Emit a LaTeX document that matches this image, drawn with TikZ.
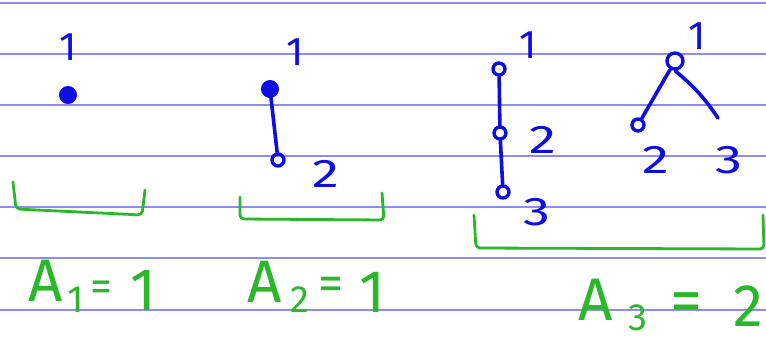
\documentclass[tikz,border=0pt]{standalone}
\usepackage{fontspec}
\setmainfont{Fira Sans}
\definecolor{inkblue}{RGB}{14,14,226}
\definecolor{inkgreen}{RGB}{40,184,40}
\definecolor{ruleblue}{RGB}{140,140,245}
\newcommand{\wide}[1]{\scalebox{1.35}[1]{#1}}
\begin{document}
\begin{tikzpicture}[x=1pt,y=-1pt,
  rule/.style={draw=ruleblue,line width=1.1pt},
  edge/.style={draw=inkblue,line width=3.6pt,line cap=round,line join=round},
  dotfill/.style={circle,fill=inkblue,draw=inkblue,line width=2pt,minimum size=16pt,inner sep=0pt},
  dotopen/.style={circle,draw=inkblue,line width=3.4pt,minimum size=12pt,inner sep=0pt},
  blab/.style={text=inkblue,font=\fontsize{40}{40}\selectfont,inner sep=0pt},
  bracketline/.style={draw=inkgreen,line width=2.8pt,line cap=round,line join=round,rounded corners=4pt},
  glab/.style={text=inkgreen,font=\fontsize{60}{60}\selectfont,inner sep=0pt},
  gsub/.style={text=inkgreen,font=\fontsize{38}{38}\selectfont,inner sep=0pt},
  geq/.style={text=inkgreen,font=\fontsize{44}{44}\selectfont,inner sep=0pt}]
\useasboundingbox[fill=white] (0,0) rectangle (766,342);
% ruled paper
\foreach \yy in {3,54,105,156,207,258,310}
  \draw[rule] (0,\yy) -- (766,\yy);

% ---- one vertex ----
\node[blab] (p1l) at (68,47) {1};
\node[dotfill] (p1a) at (68,95) {};
\draw[bracketline] (13,182) -- (16,209) -- (142,215) -- (145,190);
\node[glab] (p1A) at (46,281) {A};
\node[gsub] (p1s) at (76,300) {1};
\node[geq] (p1e) at (101,291) {=};
\node[glab] (p1v) at (143,290) {1};

% ---- two vertices ----
\node[blab] (p2l) at (295,52) {1};
\node[dotfill] (p2a) at (270,89) {};
\node[dotopen] (p2b) at (278,160) {};
\draw[edge] (p2a) -- (p2b);
\node[blab] (p2bl) at (326,174) {\wide{2}};
\draw[bracketline] (240,197) -- (240,219) -- (384,220) -- (382,193);
\node[glab] (p2A) at (265,282) {A};
\node[gsub] (p2s) at (300,300) {2};
\node[geq,font=\fontsize{50}{50}\selectfont] (p2e) at (331,289) {=};
\node[glab] (p2v) at (372,292) {1};

% ---- three vertices: path ----
\node[blab] (p3l) at (528,45) {1};
\node[dotopen] (p3a) at (499,69) {};
\node[dotopen] (p3b) at (500,133) {};
\node[dotopen] (p3c) at (503,192) {};
\draw[edge] (p3a) -- (p3b);
\draw[edge] (p3b) -- (p3c);
\node[blab] (p3bl) at (543,140) {\wide{2}};
\node[blab] (p3cl) at (537,212) {\wide{3}};

% ---- three vertices: cherry ----
\node[blab] (q3l) at (697,36) {1};
\node[dotopen,minimum size=16pt] (q3a) at (675,61) {};
\node[dotopen] (q3b) at (638,125) {};
\coordinate (q3c) at (718,118);
\draw[edge] (q3a) -- (q3b);
\draw[edge] (q3a.south) to[bend left=8] (q3c);
\node[blab] (q3bl) at (656,160) {\wide{2}};
\node[blab] (q3cl) at (729,160) {\wide{3}};

\draw[bracketline] (474,215) -- (476,248) -- (764,249) -- (763,215);
\node[glab] (p3A) at (596,300) {A};
\node[gsub] (p3s) at (638,318) {3};
\node[geq,font=\fontsize{64}{64}\selectfont] (p3e) at (686,308) {=};
\node[glab] (p3v) at (748,306) {2};
\end{tikzpicture}
\end{document}
